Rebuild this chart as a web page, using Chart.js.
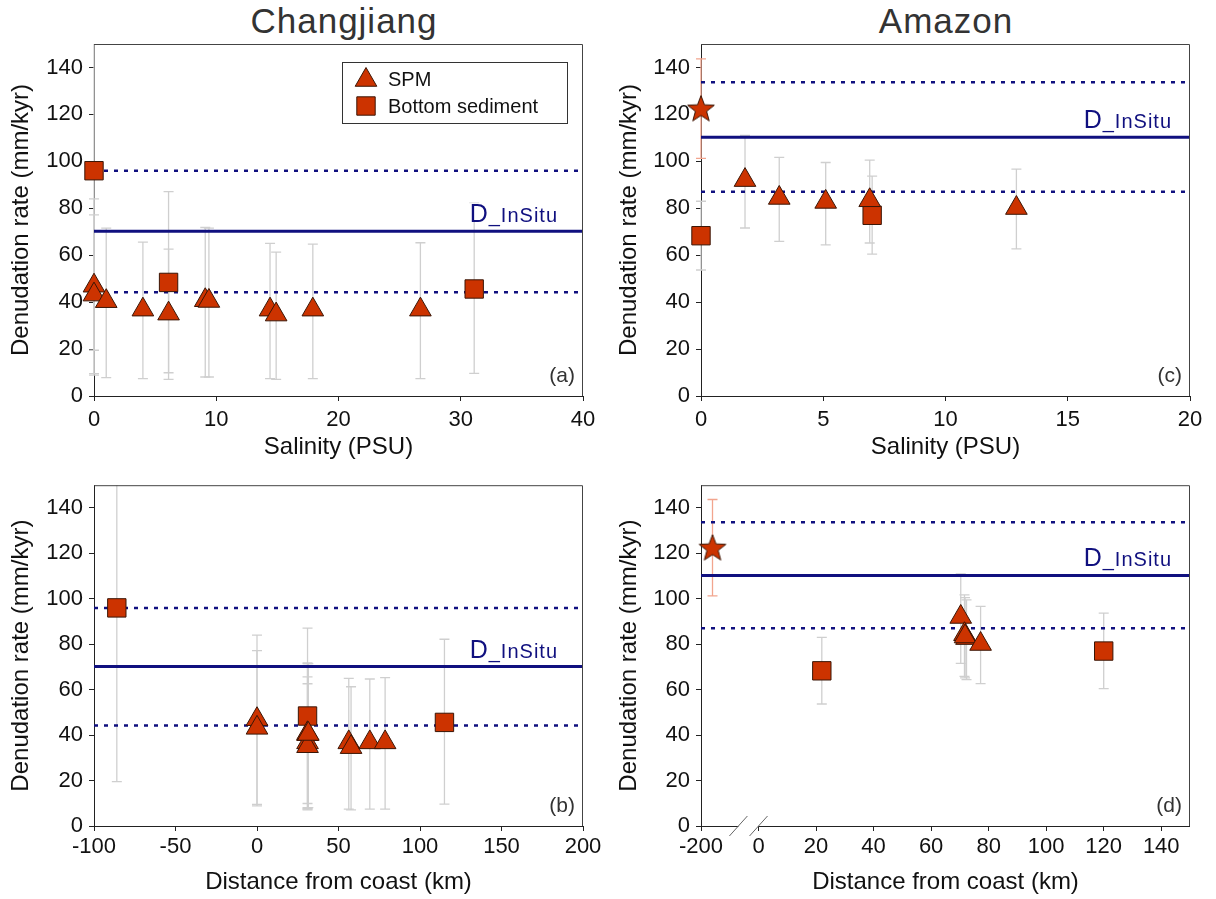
<!DOCTYPE html>
<html>
<head>
<meta charset="utf-8">
<script src="https://cdn.jsdelivr.net/npm/chart.js@4.4.1/dist/chart.umd.min.js"></script>
<style>
  body { margin: 0; background: #fff; width: 1216px; height: 899px; position: relative; overflow: hidden;
         font-family: 'Liberation Sans', Arial, sans-serif; }
  canvas { position: absolute; display: block; }
  .river { position: absolute; top: 1px; width: 300px; text-align: center; font-size: 35px; color: #333;
           letter-spacing: 1px; }
</style>
</head>
<body>
<div class="river" style="left:194px">Changjiang</div>
<div class="river" style="left:796px">Amazon</div>
<canvas id="pa" width="608" height="466" style="left:0;top:0"></canvas>
<canvas id="pc" width="608" height="466" style="left:608px;top:0"></canvas>
<canvas id="pb" width="608" height="433" style="left:0;top:466px"></canvas>
<canvas id="pd" width="608" height="433" style="left:608px;top:466px"></canvas>
<script>
// Changjiang SPM samples
const cjSpmSalinity = [0, 0, 1, 4, 6.1, 9.1, 9.4, 14.4, 14.9, 17.9, 26.7];
const cjSpmDistance = [0, 0, 31, 31, 31, 31, 31.5, 56.3, 57.7, 69.2, 78.6];
const cjSpmRate = [47, 43.2, 40.4, 36.8, 35.1, 40.8, 40.5, 36.8, 34.7, 36.8, 36.8];
const cjSpmLow = [9.5, 8.9, 7.8, 7.4, 7.1, 8.1, 8.1, 7.4, 7.1, 7.4, 7.4];
const cjSpmHigh = [84, 77.2, 71.5, 65.6, 62.6, 71.8, 71.5, 65, 61.3, 64.7, 65.3];

// Changjiang bottom sediment
const cjBedSalinity = [0, 6.1, 31.1];
const cjBedDistance = [-86, 31, 115];
const cjBedRate = [96, 48.4, 45.6];
const cjBedLow = [19.5, 9.9, 9.6];
const cjBedHigh = [175, 87.1, 82.2];

// Changjiang in situ rate: low, mean, high
const cjInSitu = [44.2, 70.2, 96];

// Amazon SPM samples
const amSpmSalinity = [1.8, 3.2, 5.1, 6.9, 12.9];
const amSpmDistance = [70.3, 71.6, 72.3, 71.8, 77.2];
const amSpmRate = [92, 84.4, 82.7, 83.4, 80.1];
const amSpmLow = [71.6, 65.9, 64.4, 65.2, 62.7];
const amSpmHigh = [111, 101.7, 99.5, 100.5, 96.7];

// Amazon bottom sediment
const amBedSalinity = [0, 7];
const amBedDistance = [22, 120];
const amBedRate = [68.3, 77];
const amBedLow = [53.7, 60.5];
const amBedHigh = [83, 93.7];

// Amazon river sample (star)
const amRiverSalinity = [0];
const amRiverDistance = [-160];
const amRiverRate = [122.5];
const amRiverLow = [101.3];
const amRiverHigh = [143.7];

const amInSitu = [87, 110.3, 133.7];

const rateTicks = [0, 20, 40, 60, 80, 100, 120, 140];
const amDistanceTicks = [-200, 0, 20, 40, 60, 80, 100, 120, 140];

const fillCol = '#cc3300';
const edgeCol = '#3a1606';
const errCol = '#cfcfcf';
const starErrCol = '#f2a58e';
const navy = '#10107f';

Chart.defaults.font.family = "'Liberation Sans', Arial, sans-serif";
Chart.defaults.color = '#111';

// compress the negative side of the Amazon distance axis (axis break)
function breakAxis(d) {
  return d < 0 ? d / 10 : d;
}

function starImage(size) {
  const c = document.createElement('canvas');
  c.width = c.height = size;
  const g = c.getContext('2d');
  const R = size / 2 - 1, r = R * 0.42, cx = size / 2, cy = size / 2 + 1;
  g.beginPath();
  for (let k = 0; k < 10; k++) {
    const rad = k % 2 ? r : R;
    const a = -Math.PI / 2 + k * Math.PI / 5;
    g.lineTo(cx + rad * Math.cos(a), cy + rad * Math.sin(a));
  }
  g.closePath();
  g.fillStyle = fillCol;
  g.fill();
  g.strokeStyle = edgeCol;
  g.lineWidth = 1;
  g.stroke();
  return c;
}
const star = starImage(30);

function series(label, xs, ys, lo, hi, style, radius, mapX, ec) {
  return {
    label,
    data: xs.map((x, i) => ({x: mapX ? mapX(x) : x, y: ys[i]})),
    errLow: lo,
    errHigh: hi,
    errColor: ec || errCol,
    pointStyle: style,
    pointRadius: radius,
    pointHoverRadius: radius,
    backgroundColor: fillCol,
    borderColor: edgeCol,
    pointBorderWidth: 1,
    showLine: false,
    clip: false,
  };
}

// error bars + reference lines, under the markers
const underlay = {
  id: 'underlay',
  beforeDatasetsDraw(chart, args, opts) {
    const {ctx, chartArea: a, scales: {x, y}} = chart;
    ctx.save();
    ctx.beginPath();
    ctx.rect(a.left - 20, a.top, a.width + 40, a.height);
    ctx.clip();
    ctx.lineWidth = 1.3;
    chart.data.datasets.forEach(ds => {
      ctx.strokeStyle = ds.errColor;
      ds.data.forEach((p, i) => {
        const px = x.getPixelForValue(p.x);
        const y1 = y.getPixelForValue(ds.errLow[i]);
        const y2 = y.getPixelForValue(ds.errHigh[i]);
        ctx.beginPath();
        ctx.moveTo(px, y1); ctx.lineTo(px, y2);
        ctx.moveTo(px - 5, y1); ctx.lineTo(px + 5, y1);
        ctx.moveTo(px - 5, y2); ctx.lineTo(px + 5, y2);
        ctx.stroke();
      });
    });
    ctx.restore();

    // in situ rate: dotted range, solid mean
    ctx.save();
    ctx.strokeStyle = navy;
    const [low, mean, high] = opts.lines;
    ctx.lineWidth = 2.5;
    ctx.setLineDash([4, 6]);
    [low, high].forEach(v => {
      const py = y.getPixelForValue(v);
      ctx.beginPath(); ctx.moveTo(a.left, py); ctx.lineTo(a.right, py); ctx.stroke();
    });
    ctx.setLineDash([]);
    ctx.lineWidth = 3;
    const my = y.getPixelForValue(mean);
    ctx.beginPath(); ctx.moveTo(a.left, my); ctx.lineTo(a.right, my); ctx.stroke();

    // label with white backing
    ctx.letterSpacing = '1px';
    ctx.font = "25px 'Liberation Sans', Arial, sans-serif";
    const wD = ctx.measureText('D').width;
    ctx.font = "20px 'Liberation Sans', Arial, sans-serif";
    const wRest = ctx.measureText('_InSitu').width;
    const xr = a.right - opts.labelInset;
    const base = my - 9;
    ctx.fillStyle = '#fff';
    ctx.fillRect(xr - wD - wRest - 2, base - 19, wD + wRest + 4, 17);
    ctx.fillStyle = navy;
    ctx.textBaseline = 'alphabetic';
    ctx.textAlign = 'left';
    ctx.font = "25px 'Liberation Sans', Arial, sans-serif";
    ctx.fillText('D', xr - wD - wRest, base);
    ctx.font = "20px 'Liberation Sans', Arial, sans-serif";
    ctx.fillText('_InSitu', xr - wRest, base);
    ctx.restore();
  },
};

// frame, panel letter, legend, axis break
const overlay = {
  id: 'overlay',
  afterDatasetsDraw(chart, args, opts) {
    const {ctx, chartArea: a, scales: {x}} = chart;
    ctx.save();
    ctx.strokeStyle = '#444';
    ctx.lineWidth = 1;
    ctx.beginPath();
    ctx.moveTo(a.left, a.top + 0.5);
    ctx.lineTo(a.right - 0.5, a.top + 0.5);
    ctx.lineTo(a.right - 0.5, a.bottom);
    ctx.stroke();

    ctx.fillStyle = '#333';
    ctx.font = "21px 'Liberation Sans', Arial, sans-serif";
    ctx.textAlign = 'right';
    ctx.textBaseline = 'middle';
    ctx.fillText(opts.letter, a.right - 8, a.bottom - 20);

    if (opts.legend) {
      const lx = a.left + 248, ly = a.top + 18;
      ctx.strokeStyle = '#333';
      ctx.strokeRect(lx + 0.5, ly + 0.5, 225, 61);
      chart.data.datasets.forEach((ds, i) => {
        const cy = ly + 17 + i * 27;
        ctx.fillStyle = fillCol;
        ctx.strokeStyle = edgeCol;
        ctx.lineWidth = 1;
        Chart.helpers.drawPoint(ctx, {pointStyle: ds.pointStyle, radius: ds.pointRadius, borderWidth: 1, rotation: 0}, lx + 24, cy + (i === 0 ? 1 : 0));
        ctx.fillStyle = '#111';
        ctx.textAlign = 'left';
        ctx.font = "20px 'Liberation Sans', Arial, sans-serif";
        ctx.fillText(ds.label, lx + 46, cy + 1);
      });
    }

    if (opts.axisBreak) {
      const [b0, b1] = opts.axisBreak.map(breakAxis);
      const p0 = x.getPixelForValue(b0), p1 = x.getPixelForValue(b1);
      ctx.strokeStyle = '#222';
      ctx.lineWidth = 1;
      ctx.beginPath();
      ctx.moveTo(a.left, a.bottom + 0.5); ctx.lineTo(p0, a.bottom + 0.5);
      ctx.moveTo(p1, a.bottom + 0.5); ctx.lineTo(a.right, a.bottom + 0.5);
      ctx.stroke();
      ctx.strokeStyle = '#666';
      [p0, p1].forEach(p => {
        ctx.beginPath();
        ctx.moveTo(p - 9, a.bottom + 10);
        ctx.lineTo(p + 9, a.bottom - 10);
        ctx.stroke();
      });
    }
    ctx.restore();
  },
};

function makePanel(id, o) {
  const xTicks = o.xTicks;
  new Chart(document.getElementById(id), {
    type: 'scatter',
    data: {datasets: o.datasets},
    options: {
      responsive: false,
      animation: false,
      devicePixelRatio: 1,
      events: [],
      layout: {padding: {left: 0, right: o.padRight, top: o.padTop, bottom: 0}},
      scales: {
        x: {
          type: 'linear',
          min: o.xMin,
          max: o.xMax,
          afterFit(scale) { scale.height = o.xHeight; },
          afterBuildTicks(scale) {
            if (xTicks) scale.ticks = xTicks.map(v => ({value: breakAxis(v)}));
          },
          ticks: {
            stepSize: o.xStep,
            padding: o.xTickPad,
            color: '#111',
            font: {size: 22},
            maxRotation: 0,
            callback: v => (xTicks && v < 0 ? String(v * 10) : String(v)),
          },
          grid: {display: true, drawOnChartArea: false, drawTicks: true, tickLength: 5, color: '#222'},
          border: {display: !o.axisBreak, color: '#222'},
          title: {display: true, text: o.xTitle, color: '#111', font: {size: 24}, padding: {top: 0, bottom: o.xTitlePad}},
        },
        y: {
          type: 'linear',
          min: 0,
          max: 150,
          afterFit(scale) { scale.width = o.yWidth; },
          afterBuildTicks(scale) { scale.ticks = rateTicks.map(v => ({value: v})); },
          ticks: {padding: 6, color: '#111', font: {size: 22}},
          grid: {display: true, drawOnChartArea: false, drawTicks: true, tickLength: 5, color: '#222'},
          border: {display: true, color: '#222'},
          title: {display: true, text: 'Denudation rate (mm/kyr)', color: '#111', font: {size: 24}, padding: {top: 7, bottom: 0}},
        },
      },
      plugins: {
        legend: {display: false},
        tooltip: {enabled: false},
        underlay: {lines: o.lines, labelInset: o.labelInset},
        overlay: {letter: o.letter, legend: o.legend, axisBreak: o.axisBreak},
      },
    },
    plugins: [underlay, overlay],
  });
}

makePanel('pa', {
  datasets: [
    series('SPM', cjSpmSalinity, cjSpmRate, cjSpmLow, cjSpmHigh, 'triangle', 12.5),
    series('Bottom sediment', cjBedSalinity, cjBedRate, cjBedLow, cjBedHigh, 'rect', 13),
  ],
  xMin: 0, xMax: 40, xStep: 10, xTitle: 'Salinity (PSU)',
  padRight: 25, padTop: 44, xHeight: 70, yWidth: 94, xTickPad: 6, xTitlePad: 4,
  lines: cjInSitu, labelInset: 25, letter: '(a)', legend: true,
});

makePanel('pc', {
  datasets: [
    series('SPM', amSpmSalinity, amSpmRate, amSpmLow, amSpmHigh, 'triangle', 12.5),
    series('Bottom sediment', amBedSalinity, amBedRate, amBedLow, amBedHigh, 'rect', 13),
    series('River', amRiverSalinity, amRiverRate, amRiverLow, amRiverHigh, star, 15, null, starErrCol),
  ],
  xMin: 0, xMax: 20, xStep: 5, xTitle: 'Salinity (PSU)',
  padRight: 26, padTop: 44, xHeight: 70, yWidth: 93, xTickPad: 6, xTitlePad: 4,
  lines: amInSitu, labelInset: 18, letter: '(c)',
});

makePanel('pb', {
  datasets: [
    series('SPM', cjSpmDistance, cjSpmRate, cjSpmLow, cjSpmHigh, 'triangle', 12.5),
    series('Bottom sediment', cjBedDistance, cjBedRate, cjBedLow, cjBedHigh, 'rect', 13),
  ],
  xMin: -100, xMax: 200, xStep: 50, xTitle: 'Distance from coast (km)',
  padRight: 25, padTop: 7, xHeight: 73, yWidth: 94, xTickPad: 3, xTitlePad: 2,
  lines: cjInSitu, labelInset: 25, letter: '(b)',
});

makePanel('pd', {
  datasets: [
    series('SPM', amSpmDistance, amSpmRate, amSpmLow, amSpmHigh, 'triangle', 12.5, breakAxis),
    series('Bottom sediment', amBedDistance, amBedRate, amBedLow, amBedHigh, 'rect', 13, breakAxis),
    series('River', amRiverDistance, amRiverRate, amRiverLow, amRiverHigh, star, 15, breakAxis, starErrCol),
  ],
  xMin: breakAxis(-200), xMax: 150, xTicks: amDistanceTicks, xTitle: 'Distance from coast (km)',
  padRight: 26, padTop: 7, xHeight: 73, yWidth: 93, xTickPad: 3, xTitlePad: 2,
  lines: amInSitu, labelInset: 18, letter: '(d)', axisBreak: [-70, 0],
});
</script>
</body>
</html>
